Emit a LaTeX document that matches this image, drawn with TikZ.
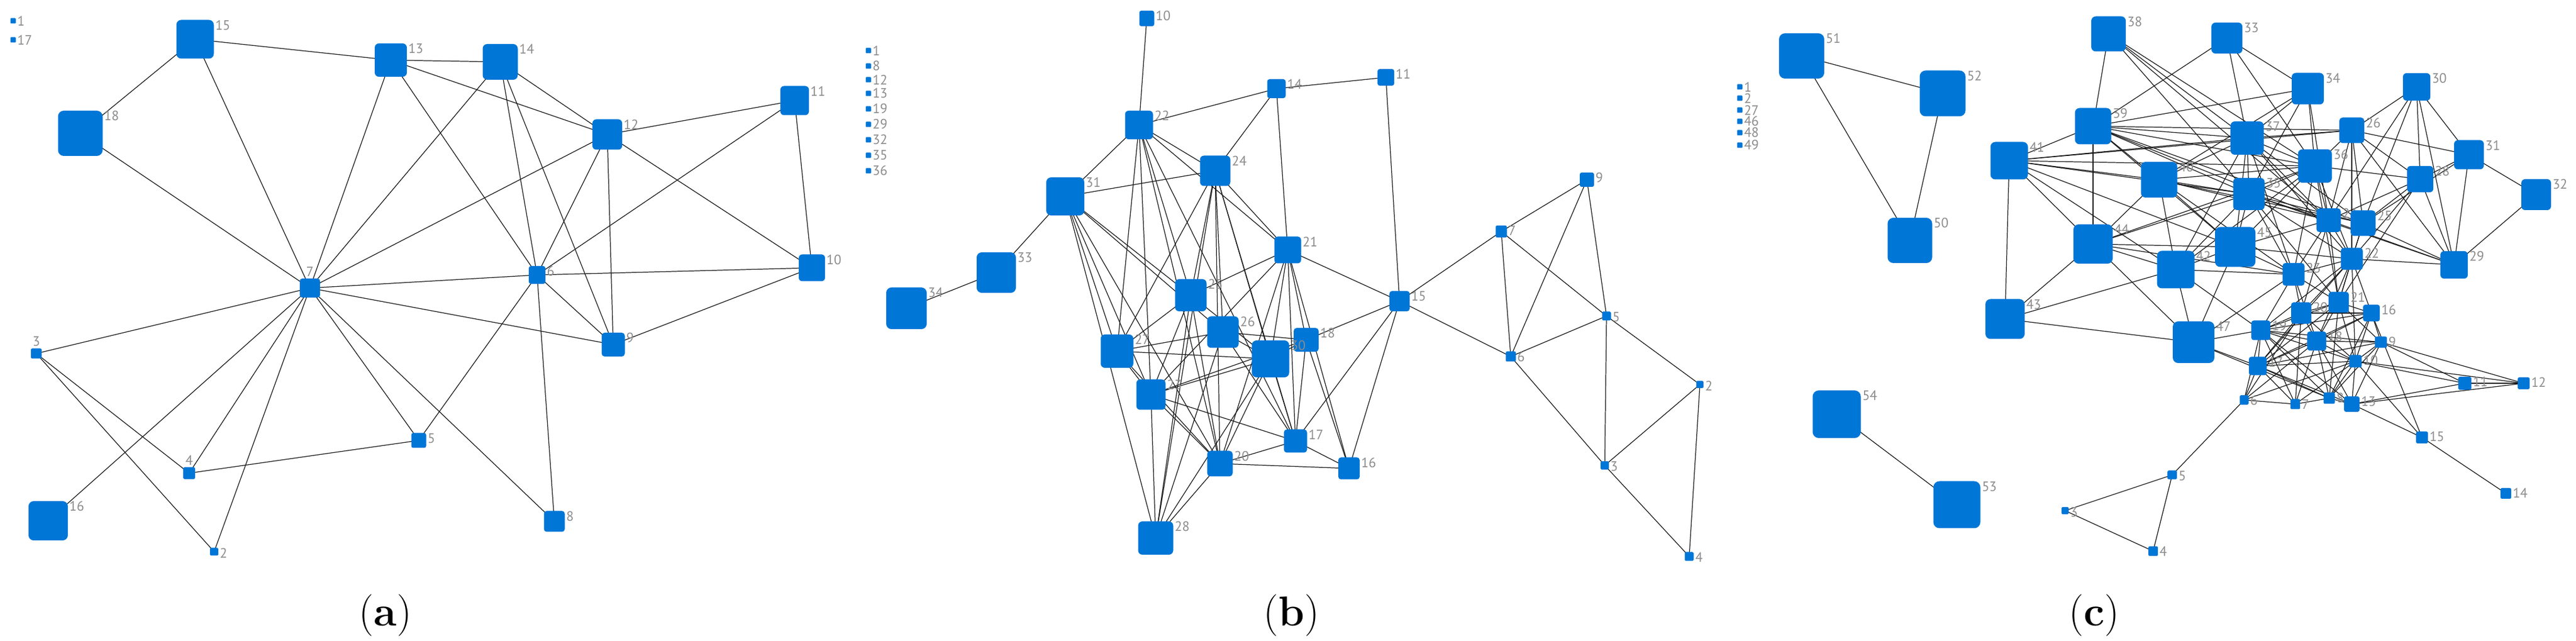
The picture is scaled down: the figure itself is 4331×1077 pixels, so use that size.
\documentclass[tikz,border=0pt]{standalone}
\usepackage{fontspec}
\newfontfamily\labfont{PT Sans}
\usetikzlibrary{backgrounds}
\definecolor{nblue}{RGB}{0,118,215}
\definecolor{lgray}{RGB}{140,140,140}
\tikzset{
  gnode/.style={fill=nblue, draw=none, inner sep=0pt, outer sep=0pt},
  glab/.style={text=lgray, font=\labfont\fontsize{6.5}{6.5}\selectfont, inner sep=0pt},
  edge/.style={draw=black!90, line width=0.35pt},
  capt/.style={font=\fontsize{20}{24}\selectfont, inner sep=0pt},
}
\newcommand\gnbox[5]{%
  \pgfmathsetlengthmacro\gnw{#4*0.01cm}%
  \pgfmathsetlengthmacro\gnh{#5*0.01cm}%
  \pgfmathsetlengthmacro\gnr{min(#4,#5)*0.0013cm}%
  \node[gnode,minimum width=\gnw,minimum height=\gnh,rounded corners=\gnr] (#1) at (#2,#3) {};}
\newcommand\gn[6]{\gnbox{#1}{#2}{#3}{#4}{#5}%
  \node[glab,anchor=north west] (#1l) at ([xshift=0.02cm]#1.north east) {#6};}
\newcommand\gnA[6]{\gnbox{#1}{#2}{#3}{#4}{#5}%
  \node[glab,anchor=south] (#1l) at ([yshift=0.03cm]#1.north) {#6};}
\newcommand\lgd[4]{\gnbox{#1}{#2}{#3}{9}{9}%
  \node[glab,anchor=west] (#1l) at ([xshift=0.02cm]#1.east) {#4};}
\begin{document}
\begin{tikzpicture}[x=0.01cm,y=-0.01cm]
\useasboundingbox (0,0) rectangle (4331,1077);
% ---------------- panel (a)
\lgd{la1}{22}{35}{1}
\lgd{la17}{22}{67}{17}
\gn{a15}{328}{66}{63}{65}{15}
\gn{a18}{135}{224}{75}{76}{18}
\gn{a13}{657}{101}{54}{56}{13}
\gnA{a7}{521}{484}{34}{32}{7}
\gnA{a3}{61}{594}{18}{17}{3}
\gnA{a4}{318}{795}{20}{20}{4}
\gn{a16}{81}{875}{66}{66}{16}
\gn{a2}{360}{927}{14}{13}{2}
\gn{a5}{704}{740}{25}{25}{5}
\gn{a14}{841}{104}{59}{60}{14}
\gn{a12}{1021}{226}{50}{51}{12}
\gn{a11}{1336}{169}{48}{49}{11}
\gn{a6}{903}{462}{28}{30}{6}
\gn{a10}{1365}{450}{44}{45}{10}
\gn{a9}{1031}{579}{39}{40}{9}
\gn{a8}{932}{876}{35}{35}{8}
% ---------------- panel (b)
\lgd{lb1}{1460}{85}{1}
\lgd{lb8}{1460}{111}{8}
\lgd{lb12}{1460}{134}{12}
\lgd{lb13}{1460}{157}{13}
\lgd{lb19}{1460}{183}{19}
\lgd{lb29}{1460}{209}{29}
\lgd{lb32}{1460}{235}{32}
\lgd{lb35}{1460}{261}{35}
\lgd{lb36}{1460}{287}{36}
\gn{b10}{1928}{31}{25}{26}{10}
\gn{b22}{1915}{210}{47}{48}{22}
\gn{b24}{2043}{287}{51}{51}{24}
\gn{b31}{1791}{330}{64}{64}{31}
\gn{b33}{1675}{458}{66}{68}{33}
\gn{b34}{1524}{518}{68}{70}{34}
\gn{b14}{2146}{149}{31}{32}{14}
\gn{b11}{2330}{130}{28}{28}{11}
\gn{b9}{2668}{302}{24}{24}{9}
\gn{b7}{2524}{389}{19}{20}{7}
\gn{b21}{2165}{420}{45}{45}{21}
\gn{b15}{2353}{506}{34}{34}{15}
\gn{b5}{2701}{531}{15}{15}{5}
\gn{b6}{2540}{599}{17}{17}{6}
\gn{b2}{2858}{646}{12}{12}{2}
\gn{b3}{2698}{782}{14}{14}{3}
\gn{b4}{2840}{935}{15}{15}{4}
\gn{b18}{2196}{571}{42}{40}{18}
\gn{b30}{2136}{603}{63}{62}{30}
\gn{b17}{2178}{741}{39}{39}{17}
\gn{b16}{2268}{787}{36}{37}{16}
\gn{b25}{2002}{496}{53}{54}{25}
\gn{b26}{2056}{558}{53}{53}{26}
\gn{b27}{1878}{590}{55}{56}{27}
\gn{b23}{1935}{663}{49}{51}{23}
\gn{b20}{2051}{779}{43}{43}{20}
\gn{b28}{1943}{904}{59}{56}{28}
% ---------------- panel (c)
\lgd{lc1}{2925}{146}{1}
\lgd{lc2}{2925}{165}{2}
\lgd{lc27}{2925}{185}{27}
\lgd{lc46}{2925}{204}{46}
\lgd{lc48}{2925}{223}{48}
\lgd{lc49}{2925}{244}{49}
\gn{c51}{3029}{94}{76}{76}{51}
\gn{c52}{3266}{157}{77}{77}{52}
\gn{c50}{3211}{404}{75}{76}{50}
\gn{c54}{3088}{696}{81}{80}{54}
\gn{c53}{3290}{848}{79}{79}{53}
\gn{c38}{3545}{57}{58}{59}{38}
\gn{c39}{3519}{212}{61}{61}{39}
\gn{c41}{3378}{270}{63}{63}{41}
\gn{c44}{3519}{410}{66}{66}{44}
\gn{c33}{3744}{64}{52}{52}{33}
\gn{c34}{3880}{149}{54}{53}{34}
\gn{c30}{4063}{146}{46}{46}{30}
\gn{c26}{3954}{219}{42}{43}{26}
\gn{c37}{3778}{232}{56}{56}{37}
\gn{c31}{4151}{260}{50}{49}{31}
\gn{c36}{3892}{279}{57}{56}{36}
\gn{c40}{3630}{302}{61}{60}{40}
\gn{c35}{3781}{326}{53}{54}{35}
\gn{c28}{4069}{301}{44}{44}{28}
\gn{c32}{4264}{327}{50}{52}{32}
\gn{c24}{3915}{370}{41}{40}{24}
\gn{c25}{3973}{375}{42}{43}{25}
\gn{c45}{3758}{415}{68}{67}{45}
\gn{c42}{3658}{453}{63}{63}{42}
\gn{c22}{3954}{435}{37}{37}{22}
\gn{c29}{4126}{445}{46}{46}{29}
\gn{c23}{3856}{461}{37}{38}{23}
\gn{c21}{3932}{508}{34}{35}{21}
\gn{c43}{3371}{536}{66}{67}{43}
\gn{c47}{3688}{575}{70}{70}{47}
\gn{c20}{3869}{526}{34}{36}{20}
\gn{c16}{3987}{526}{28}{28}{16}
\gn{c19}{3801}{555}{32}{33}{19}
\gn{c18}{3895}{573}{32}{32}{18}
\gn{c9}{4003}{575}{20}{19}{9}
\gn{c17}{3796}{615}{30}{31}{17}
\gn{c10}{3960}{607}{21}{21}{10}
\gn{c6}{3773}{672}{15}{16}{6}
\gn{c7}{3859}{679}{16}{17}{7}
\gn{c8}{3916}{669}{19}{19}{8}
\gn{c13}{3954}{679}{26}{26}{13}
\gn{c11}{4144}{644}{22}{22}{11}
\gn{c12}{4243}{644}{20}{20}{12}
\gn{c15}{4072}{735}{20}{20}{15}
\gn{c14}{4213}{829}{18}{18}{14}
\gn{c5}{3652}{798}{16}{15}{5}
\gn{c3}{3472}{858}{12}{12}{3}
\gn{c4}{3620}{926}{16}{16}{4}
% ---------------- captions
\node[capt] (capa) at (648,1034) {(\textbf{a})};
\node[capt] (capb) at (2171,1034) {(\textbf{b})};
\node[capt] (capc) at (3521,1034) {(\textbf{c})};
% ---------------- edges
\begin{pgfonlayer}{background}
\foreach \u/\v in {a15/a13,a15/a18,a15/a7,a18/a7,a13/a7,a13/a14,a13/a12,a13/a6,
  a7/a14,a7/a12,a7/a6,a7/a9,a7/a8,a7/a5,a7/a3,a7/a16,a7/a4,a7/a2,
  a14/a12,a14/a6,a14/a9,a12/a11,a12/a6,a12/a9,a12/a10,a11/a6,a11/a10,
  a6/a10,a6/a9,a6/a8,a6/a5,a10/a9,a5/a4,a3/a4,a3/a2}
  \draw[edge] (\u.center) -- (\v.center);
\foreach \u/\v in {b10/b22,b22/b14,b22/b31,b22/b24,b22/b27,b22/b23,b22/b25,b22/b20,b22/b17,b22/b21,
  b24/b14,b24/b31,b24/b25,b24/b27,b24/b26,b24/b20,b24/b30,b24/b21,b24/b17,
  b31/b33,b33/b34,b31/b27,b31/b23,b31/b20,b31/b25,b31/b26,b31/b28,
  b14/b11,b14/b21,b11/b15,b21/b15,b15/b7,b7/b9,b7/b6,b7/b5,b9/b6,b9/b5,
  b15/b6,b15/b18,b15/b17,b15/b16,b5/b6,b5/b3,b5/b2,b6/b3,b3/b2,b3/b4,b2/b4,
  b18/b16,b21/b16,b18/b17,b17/b16,b20/b16,b20/b17,
  b25/b23,b25/b20,b25/b30,b25/b21,b25/b27,
  b27/b26,b27/b30,b27/b23,b27/b20,
  b23/b30,b23/b18,b23/b17,b23/b20,b23/b28,
  b20/b28,b28/b25,b28/b26,b28/b30,b28/b24,
  b26/b18,b26/b17,b26/b30,
  b21/b17,b21/b18,b21/b30,b21/b20,b21/b23,
  b30/b18,b30/b17,b30/b20}
  \draw[edge] (\u.center) -- (\v.center);
\foreach \u/\v in {c51/c52,c51/c50,c52/c50,c54/c53,c5/c6,c5/c3,c5/c4,c3/c4,c15/c14,c13/c15,
  c10/c11,c10/c12,c13/c11,c9/c11,c11/c12,
  c38/c39,c38/c37,c38/c36,c38/c35,c38/c24,
  c39/c41,c39/c44,c39/c33,c39/c34,c39/c37,c39/c26,c39/c36,c39/c35,c39/c24,c39/c25,c39/c45,c39/c40,
  c41/c44,c41/c43,c41/c37,c41/c36,c41/c40,c41/c35,c41/c45,c41/c42,c41/c26,
  c44/c43,c44/c47,c44/c40,c44/c36,c44/c45,c44/c42,c44/c23,c44/c35,
  c43/c42,c43/c47,
  c42/c47,c42/c45,c42/c23,c42/c19,c42/c40,c42/c37,c42/c35,c42/c36,
  c45/c47,c45/c23,c45/c24,c45/c40,c45/c37,c45/c35,c45/c36,c45/c22,
  c47/c19,c47/c17,c47/c23,c47/c8,
  c33/c34,c33/c37,c33/c36,
  c34/c37,c34/c36,c34/c35,c34/c24,c34/c40,
  c30/c26,c30/c24,c30/c25,c30/c28,c30/c29,c30/c31,
  c26/c37,c26/c36,c26/c31,c26/c28,c26/c29,c26/c25,c26/c22,c26/c24,
  c37/c35,c37/c36,c37/c24,c37/c22,c37/c23,c37/c40,c37/c25,
  c36/c40,c36/c28,c36/c24,c36/c22,c36/c35,c36/c23,c36/c21,
  c40/c35,c40/c23,c40/c24,c40/c25,
  c35/c24,c35/c25,c35/c23,c35/c22,c35/c29,c35/c21,
  c28/c31,c28/c25,c28/c24,c28/c22,c28/c29,c28/c21,
  c31/c32,c31/c29,c31/c25,c32/c29,
  c29/c22,c29/c25,c29/c24,
  c24/c22,c25/c22,c24/c23,c24/c21,c25/c21,c24/c20,
  c23/c22,c23/c21,c23/c20,c23/c19,c23/c18,
  c22/c21,c22/c20,c22/c16,c22/c18,c22/c19,c22/c17,c22/c10,
  c21/c20,c21/c16,c21/c19,c21/c18,c21/c17,c21/c9,c21/c10,c21/c8,
  c20/c19,c20/c18,c20/c16,c20/c17,c20/c10,c20/c6,c20/c7,
  c19/c18,c19/c9,c19/c10,c19/c16,c19/c6,c19/c7,c19/c8,c19/c17,c19/c13,
  c18/c9,c18/c17,c18/c10,c18/c16,c18/c8,c18/c7,c18/c6,c18/c13,
  c17/c10,c17/c9,c17/c16,c17/c6,c17/c7,c17/c8,c17/c13,
  c16/c9,c16/c10,c16/c8,c16/c15,
  c9/c10,c9/c8,c9/c13,c9/c12,
  c10/c8,c10/c13,c10/c7,c10/c6,c10/c15,
  c6/c7,c7/c8,c8/c13,c13/c12}
  \draw[edge] (\u.center) -- (\v.center);
\end{pgfonlayer}
\end{tikzpicture}
\end{document}
